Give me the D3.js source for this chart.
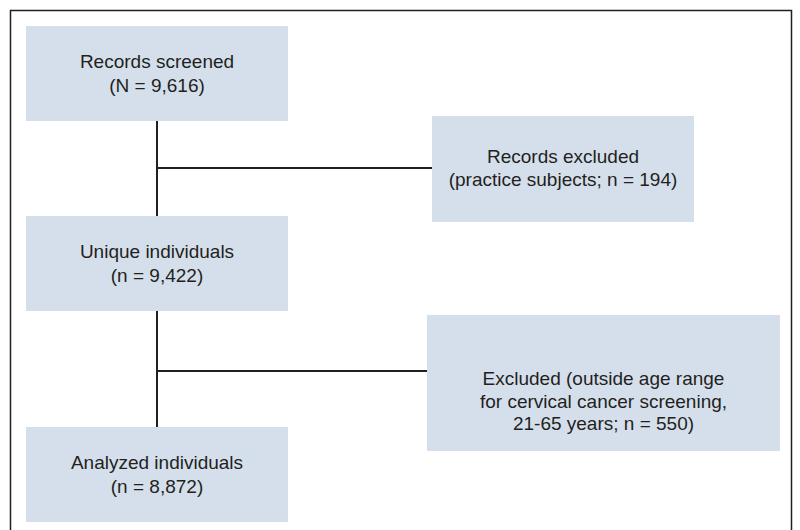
<!DOCTYPE html>
<html>
<head>
<meta charset="utf-8">
<script src="https://cdn.jsdelivr.net/npm/d3@7"></script>
<style>
    body { margin: 0; background: #fff; }
    text { font-family: 'Liberation Sans', Arial, sans-serif; font-size: 19px; fill: #231f20; }
</style>
</head>
<body>
<div id="chart"></div>
<script>
// main flow (left column)
const stepNames = ['Records screened', 'Unique individuals', 'Analyzed individuals']
const stepCounts = ['N = 9,616', 'n = 9,422', 'n = 8,872']

// exclusions (right column)
const excludedLines = [
    ['Records excluded', '(practice subjects; n = 194)'],
    ['Excluded (outside age range', 'for cervical cancer screening,', '21-65 years; n = 550)']
]

const width = 800, height = 530
const fill = '#d5dfec', ink = '#231f20'

const svg = d3.select('#chart').append('svg')
    .attr('width', width)
    .attr('height', height)

// outer frame, open at the bottom
svg.append('path')
    .attr('d', 'M10.5,535 V10.5 H791.5 V535')
    .attr('fill', 'none')
    .attr('stroke', ink)
    .attr('stroke-width', 1.5)

// row tops for the main boxes
const y = d3.scaleOrdinal().domain(d3.range(stepNames.length)).range([26, 216, 427])
const mainBox = {x: 26, w: 262, h: 95}
const cx = mainBox.x + mainBox.w / 2

const steps = stepNames.map((name, i) => ({lines: [name, '(' + stepCounts[i] + ')'], i}))

// side boxes: geometry kept out of the data arrays
const sideGeom = [
    {x: 432, y: 116, w: 262, h: 106, ty: 163, ly: 168},
    {x: 427, y: 315, w: 353, h: 136, ty: 385, ly: 371}
]
const sides = excludedLines.map((lines, i) => ({lines, g: sideGeom[i], i}))

// connectors
const lineG = svg.append('g').attr('stroke', ink).attr('stroke-width', 2)
steps.slice(1).forEach(d => {
    lineG.append('line')
        .attr('x1', cx).attr('x2', cx)
        .attr('y1', y(d.i - 1) + mainBox.h)
        .attr('y2', y(d.i))
})
sides.forEach(d => {
    lineG.append('line')
        .attr('x1', cx).attr('x2', d.g.x)
        .attr('y1', d.g.ly)
        .attr('y2', d.g.ly)
})

// main boxes
const mg = svg.selectAll('g.step')
    .data(steps)
    .enter().append('g')
    .attr('class', 'step')
    .attr('transform', d => `translate(${mainBox.x}, ${y(d.i)})`)
mg.append('rect')
    .attr('width', mainBox.w)
    .attr('height', mainBox.h)
    .attr('fill', fill)
mg.append('text')
    .attr('text-anchor', 'middle')
    .selectAll('tspan')
    .data(d => d.lines)
    .enter().append('tspan')
    .attr('x', mainBox.w / 2)
    .attr('y', (t, j) => 42 + j * 24)
    .text(t => t)

// side boxes
const sg = svg.selectAll('g.side')
    .data(sides)
    .enter().append('g')
    .attr('class', 'side')
sg.append('rect')
    .attr('x', d => d.g.x)
    .attr('y', d => d.g.y)
    .attr('width', d => d.g.w)
    .attr('height', d => d.g.h)
    .attr('fill', fill)
sg.each(function(d) {
    d3.select(this).append('text')
        .attr('text-anchor', 'middle')
        .selectAll('tspan')
        .data(d.lines)
        .enter().append('tspan')
        .attr('x', d.g.x + d.g.w / 2)
        .attr('y', (t, j) => d.g.ty + j * 22.5)
        .text(t => t)
})
</script>
</body>
</html>
